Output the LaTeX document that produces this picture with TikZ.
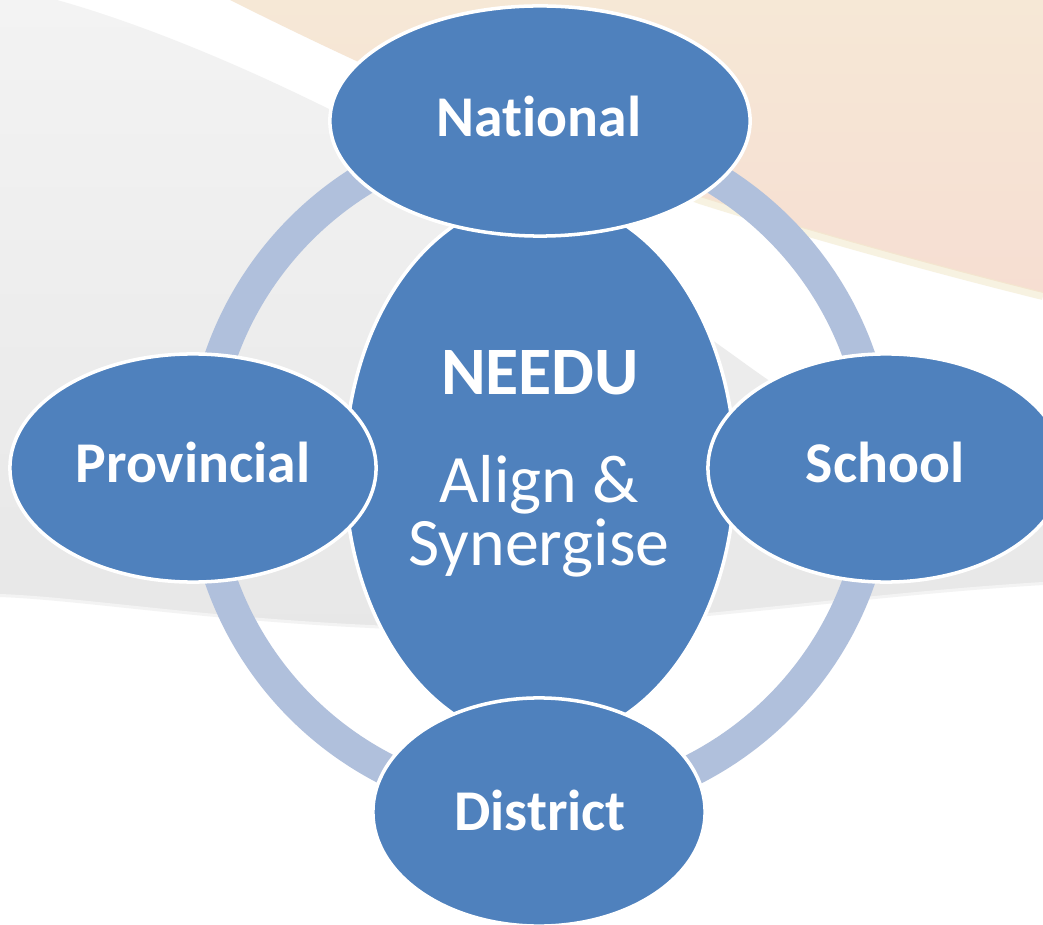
\documentclass[tikz,border=0pt]{standalone}
\usepackage{fontspec}
\setmainfont{Carlito}[Ligatures={NoCommon}]
\usetikzlibrary{shapes.geometric}
\definecolor{nodeblue}{RGB}{79,129,189}
\definecolor{ringblue}{RGB}{176,192,220}
\definecolor{peachtop}{RGB}{246,232,214}
\definecolor{peachbot}{RGB}{246,222,210}
\definecolor{peachedge}{RGB}{243,234,206}
\definecolor{greytop}{RGB}{243,243,243}
\definecolor{greybot}{RGB}{231,231,231}
\tikzset{
  blob/.style={ellipse, fill=nodeblue, draw=white, line width=1pt, inner sep=0pt},
  outerlbl/.style={anchor=base, text=white, inner sep=0pt, font=\fontsize{16.4}{20}\selectfont\bfseries},
  centerbold/.style={anchor=base, text=white, inner sep=0pt, font=\fontsize{19.3}{23}\selectfont\bfseries},
  centerlbl/.style={anchor=base, text=white, inner sep=0pt, font=\fontsize{19.3}{23}\selectfont},
  ringline/.style={draw=ringblue, line width=0.32cm}
}
\begin{document}
\begin{tikzpicture}[x=0.01cm,y=-0.01cm]
\useasboundingbox (0,0) rectangle (1043,925);
\clip (0,0) rectangle (1043,925);
\fill[white] (0,0) rectangle (1043,925);
% grey swoosh
\shade[top color=greytop, bottom color=greybot]
  (0,0) -- (57,0) .. controls (200,40) and (450,150) .. (740,360)
  .. controls (850,440) and (950,490) .. (1043,520) -- (1043,585)
  .. controls (800,600) and (600,640) .. (370,628)
  .. controls (200,620) and (80,600) .. (0,597) -- cycle;
% soften lower edge of the swoosh
\draw[white, line width=0.06cm, opacity=0.5]
  (1043,585) .. controls (800,600) and (600,640) .. (370,628)
  .. controls (200,620) and (80,600) .. (0,597);
% peach area
\shade[top color=peachtop, bottom color=peachbot]
  (230,0) .. controls (350,60) and (520,140) .. (700,197)
  .. controls (820,235) and (950,270) .. (1043,293) -- (1043,0) -- cycle;
\draw[peachedge, line width=0.08cm, opacity=0.6]
  (560,150) .. controls (620,172) and (660,185) .. (700,200)
  .. controls (820,238) and (950,273) .. (1043,296);
% ring
\coordinate (ctr) at (540,468);
\draw[ringline] (ctr) circle [radius=3.38cm];
% central lens
\node[blob, minimum width=3.9cm, minimum height=5.44cm] (core) at (540,470) {};
% outer ellipses
\node[blob, minimum width=4.2cm, minimum height=2.3cm] (nat) at (540,121) {};
\node[blob, minimum width=3.66cm, minimum height=2.28cm] (prov) at (193,468) {};
\node[blob, minimum width=3.56cm, minimum height=2.28cm] (sch) at (886,468) {};
\node[blob, minimum width=3.32cm, minimum height=2.28cm] (dist) at (539,812) {};
% labels
\node[outerlbl] (natT) at (539,137) {National};
\node[outerlbl] (provT) at (193,483) {Provincial};
\node[outerlbl] (schT) at (885,483) {School};
\node[outerlbl] (distT) at (540,830) {District};
\node[centerbold] (needuT) at (540,395) {NEEDU};
\node[centerlbl] (alignT) at (539,502) {Align \&};
\node[centerlbl] (synT) at (539,565) {Synergise};
\end{tikzpicture}
\end{document}
